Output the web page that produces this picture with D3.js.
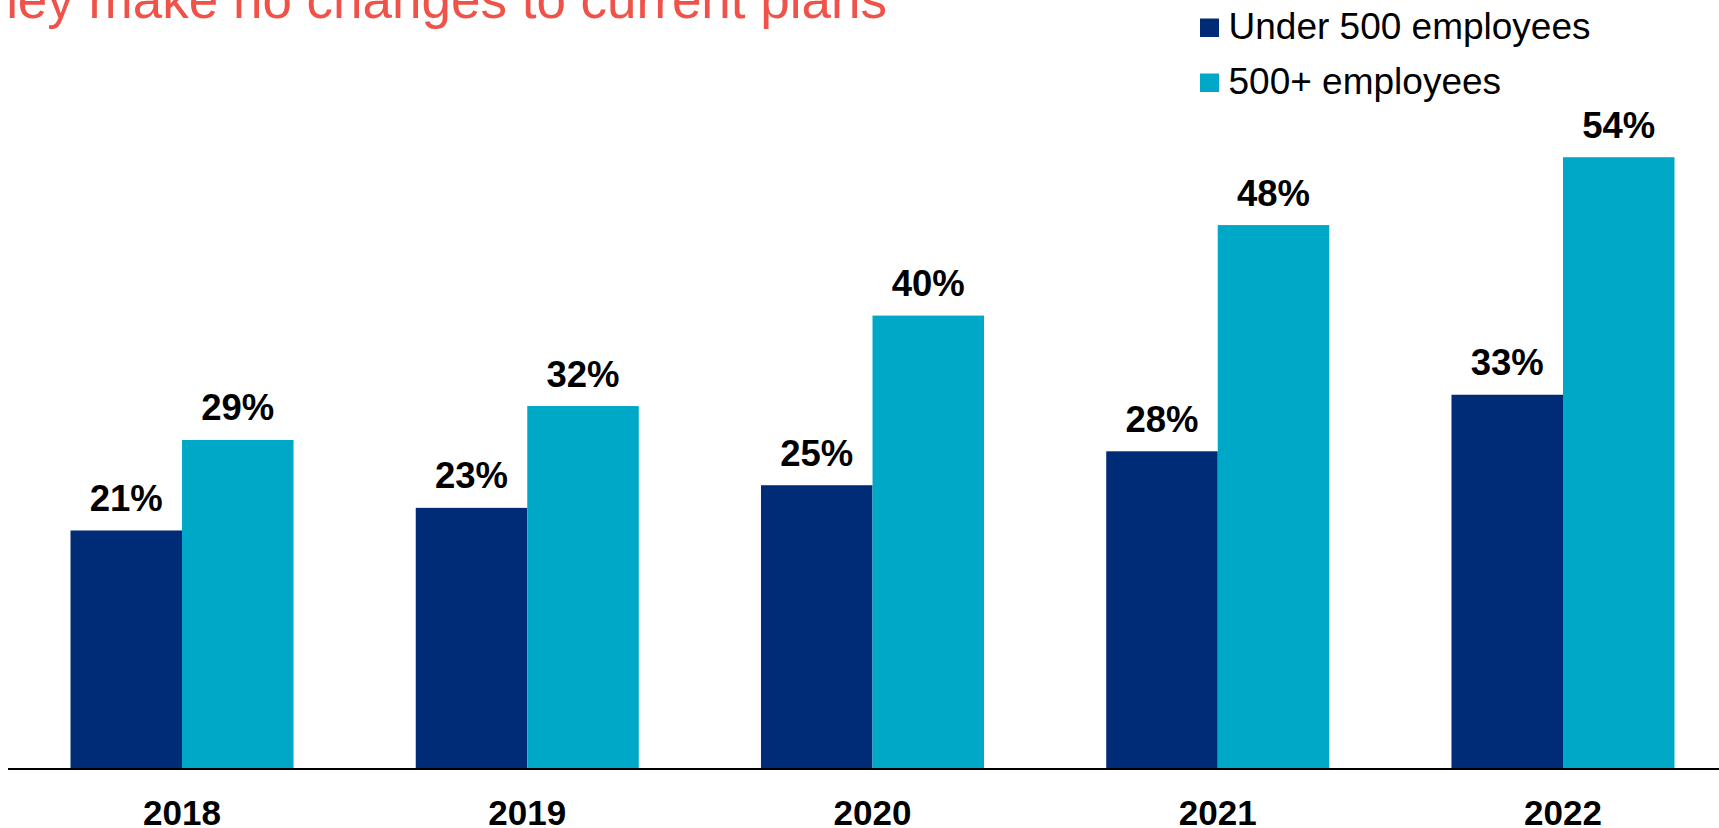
<!DOCTYPE html>
<html>
<head>
<meta charset="utf-8">
<script src="https://cdn.jsdelivr.net/npm/d3@7"></script>
<style>
  html, body { margin: 0; padding: 0; background: #ffffff; overflow: hidden; }
  svg { display: block; font-family: "Liberation Sans", Arial, sans-serif; }
</style>
</head>
<body>
<svg id="chart" width="1719" height="828"></svg>
<script>
const years = ["2018", "2019", "2020", "2021", "2022"];
const seriesNames = ["Under 500 employees", "500+ employees"];
const under500 = [21, 23, 25, 28, 33];
const over500 = [29, 32, 40, 48, 54];
const seriesColors = ["#002C77", "#00A8C8"];
const titleText = "they make no changes to current plans";

const W = 1719, H = 828;
const svg = d3.select("#chart");

const data = years.map((y, i) => ({ year: y, values: [under500[i], over500[i]] }));

const x0 = d3.scaleBand().domain(years).range([70.5, 1674.5]).paddingInner(0.354).paddingOuter(0);
const x1 = d3.scaleBand().domain([0, 1]).range([0, x0.bandwidth()]).padding(0);
const y = d3.scaleLinear().domain([0, 67.9]).range([768, 0]);
const color = d3.scaleOrdinal().domain([0, 1]).range(seriesColors);

// Title (partially cropped at top/left as in the reference)
svg.append("text")
  .attr("x", 887)
  .attr("y", 17.5)
  .attr("text-anchor", "end")
  .attr("font-size", 53)
  .attr("fill", "#F05249")
  .text(titleText);

// Bars
const groups = svg.append("g").selectAll("g")
  .data(data)
  .join("g")
  .attr("transform", d => `translate(${x0(d.year)},0)`);

groups.selectAll("rect")
  .data(d => d.values.map((v, k) => ({ k, v })))
  .join("rect")
  .attr("x", d => x1(d.k))
  .attr("width", x1.bandwidth())
  .attr("y", d => y(d.v))
  .attr("height", d => y(0) - y(d.v))
  .attr("fill", d => color(d.k));

groups.selectAll("text.val")
  .data(d => d.values.map((v, k) => ({ k, v })))
  .join("text")
  .attr("class", "val")
  .attr("x", d => x1(d.k) + x1.bandwidth() / 2)
  .attr("y", d => y(d.v) - 19.5)
  .attr("text-anchor", "middle")
  .attr("font-size", 36.5)
  .attr("font-weight", "bold")
  .attr("fill", "#000")
  .text(d => d.v + "%");

// X axis
const xAxis = d3.axisBottom(x0).tickSize(0).tickPadding(0);
const axisG = svg.append("g").attr("transform", "translate(0,769)").call(xAxis);
axisG.select(".domain").remove();
axisG.append("line")
  .attr("x1", 8).attr("x2", W)
  .attr("y1", 0).attr("y2", 0)
  .attr("stroke", "#000")
  .attr("stroke-width", 2);
axisG.selectAll(".tick text")
  .attr("y", 56)
  .attr("dy", 0)
  .attr("font-size", 35)
  .attr("font-weight", "bold")
  .attr("font-family", "\"Liberation Sans\", Arial, sans-serif")
  .attr("fill", "#000");

// Legend
const legend = svg.append("g").selectAll("g")
  .data(seriesNames)
  .join("g")
  .attr("transform", (d, i) => `translate(1200,${18.5 + i * 55})`);
legend.append("rect")
  .attr("width", 19).attr("height", 18.5)
  .attr("fill", (d, i) => seriesColors[i]);
legend.append("text")
  .attr("x", 28.5)
  .attr("y", 20.8)
  .attr("font-size", 37)
  .attr("fill", "#000")
  .text(d => d);
</script>
</body>
</html>
